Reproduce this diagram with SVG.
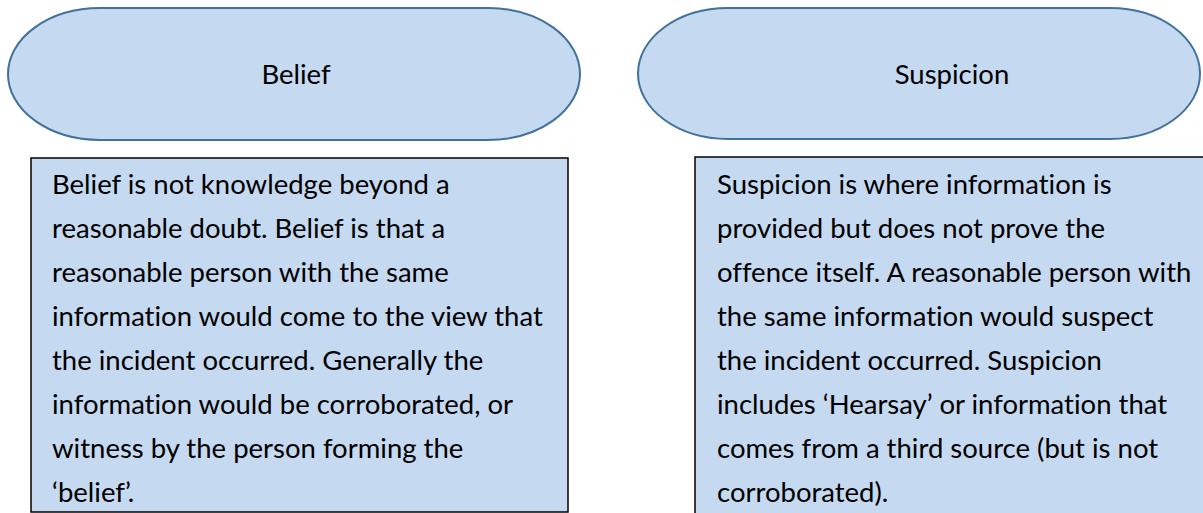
<svg xmlns="http://www.w3.org/2000/svg" width="1203" height="513" viewBox="0 0 1203 513">
<style>
.pill{fill:#C5D9F1;stroke:#41719C;stroke-width:2}
.box{fill:#C5D9F1;stroke:#000;stroke-width:1.5}
text{font-family:Lato,"Open Sans","Liberation Sans",sans-serif;font-size:27.5px;fill:#000;font-variant-ligatures:none}
.c{text-anchor:middle}
</style>
<rect width="1203" height="513" fill="#fff"/>
<g id="belief-head"><rect class="pill" x="8" y="8" width="572" height="132" rx="92" ry="66"/><text class="c" x="296" y="84">Belief</text></g>
<g id="suspicion-head"><rect class="pill" x="638" y="8" width="562" height="131" rx="90" ry="65.5"/><text class="c" x="952" y="84">Suspicion</text></g>
<g id="belief-box"><rect class="box" x="31" y="158" width="537" height="354"/>
<text x="52"><tspan x="52" y="194">Belief is not knowledge beyond a</tspan><tspan x="52" y="238">reasonable doubt. Belief is that a</tspan><tspan x="52" y="282">reasonable person with the same</tspan><tspan x="52" y="326">information would come to the view that</tspan><tspan x="52" y="370">the incident occurred. Generally the</tspan><tspan x="52" y="414">information would be corroborated, or</tspan><tspan x="52" y="458">witness by the person forming the</tspan><tspan x="52" y="502">‘belief’.</tspan></text></g>
<g id="suspicion-box"><rect class="box" x="695" y="157" width="540" height="380"/>
<text x="717"><tspan x="717" y="194">Suspicion is where information is</tspan><tspan x="717" y="238">provided but does not prove the</tspan><tspan x="717" y="282">offence itself. A reasonable person with</tspan><tspan x="717" y="326">the same information would suspect</tspan><tspan x="717" y="370">the incident occurred. Suspicion</tspan><tspan x="717" y="414">includes ‘Hearsay’ or information that</tspan><tspan x="717" y="458">comes from a third source (but is not</tspan><tspan x="717" y="502">corroborated).</tspan></text></g>
<g id="connectors"/>
</svg>
